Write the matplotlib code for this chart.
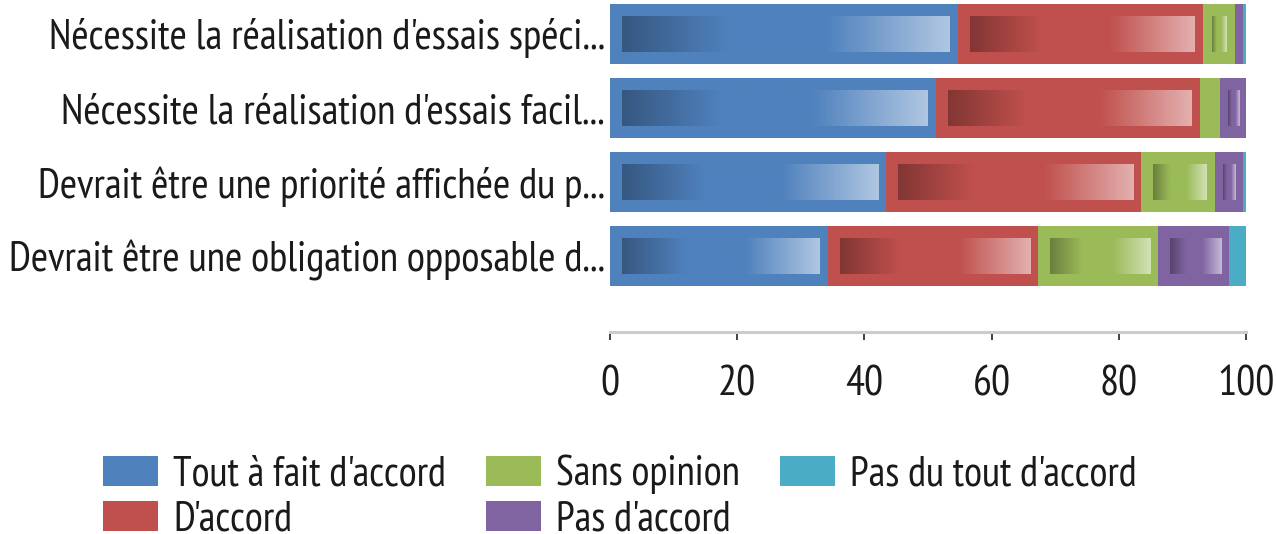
import numpy as np
import matplotlib
matplotlib.use("Agg")
import matplotlib.pyplot as plt
from matplotlib import font_manager
from matplotlib.colors import to_rgb
from matplotlib.patches import Patch

categories = [
    "Nécessite la réalisation d'essais spéci...",
    "Nécessite la réalisation d'essais facil...",
    "Devrait être une priorité affichée du p...",
    "Devrait être une obligation opposable d...",
]
series_names = ["Tout à fait d'accord", "D'accord", "Sans opinion",
                "Pas d'accord", "Pas du tout d'accord"]
tout_a_fait = [54.7, 51.2, 43.4, 34.2]
d_accord = [38.5, 41.5, 40.1, 33.1]
sans_opinion = [5.1, 3.2, 11.6, 18.9]
pas_d_accord = [1.2, 4.1, 4.4, 11.2]
pas_du_tout = [0.5, 0.5, 0.5, 2.6]
series_values = [tout_a_fait, d_accord, sans_opinion, pas_d_accord, pas_du_tout]
colors = ["#4F81BD", "#C0504D", "#9BBB59", "#8064A2", "#4BACC6"]
xticks = [0, 20, 40, 60, 80, 100]

available = {f.name for f in font_manager.fontManager.ttflist}
main_font = "DejaVu Sans"
for cand in ["PT Sans Narrow", "Open Sans Condensed", "Roboto Condensed",
             "Archivo Narrow", "Asap Condensed"]:
    if cand in available:
        main_font = cand
        break
FONT = [main_font, "DejaVu Sans"]
plt.rcParams["font.family"] = FONT
TXT = "#1a1a1a"

W, H, DPI = 1276, 534, 100
fig = plt.figure(figsize=(W / DPI, H / DPI), dpi=DPI)
renderer = fig.canvas.get_renderer()


def fit_size(text, target_px, base=20.0):
    t = fig.text(0, 0, text, fontsize=base)
    w = t.get_window_extent(renderer).width
    t.remove()
    return base * target_px / w


fs_label = fit_size(categories[0], 555)
fs_tick = fit_size("20", 38)
fs_leg = fit_size(series_names[4], 287)
fs_leg_px = fs_leg * DPI / 72.0

ax_l, ax_r = 610 / W, 1246 / W
ax_b, ax_t = (H - 332) / H, 1.0
ax = fig.add_axes([ax_l, ax_b, ax_r - ax_l, ax_t - ax_b])

y = np.arange(len(categories))
bar_h = 0.81
px_per_unit = (1246 - 610) / 100.0
ylim = (3 + 76 / 74, -34 / 74)
px_per_y = 74.0


def gradient_img(base):
    base = np.array(to_rgb(base))
    dark = base * 0.68
    light = base + (1 - base) * 0.55
    t = np.linspace(0, 1, 256)
    img = np.zeros((1, 256, 3))
    for i, ti in enumerate(t):
        if ti < 0.32:
            f = ti / 0.32
            c = dark * (1 - f) + base * f
        elif ti < 0.62:
            c = base
        else:
            f = (ti - 0.62) / 0.38
            c = base * (1 - f) + light * f
        img[0, i] = c
    return img


left = np.zeros(len(categories))
for name, vals, col in zip(series_names, series_values, colors):
    vals = np.array(vals)
    ax.barh(y, vals, left=left, height=bar_h, color=col, edgecolor="none",
            label=name, zorder=2)
    img = gradient_img(col)
    for yi, l0, v in zip(y, left, vals):
        wpx = v * px_per_unit
        if wpx < 24:
            continue
        il = min(12, 0.3 * wpx) / px_per_unit
        ir = min(8, 0.25 * wpx) / px_per_unit
        x0, x1 = l0 + il, l0 + v - ir
        inset_y = 12 / px_per_y
        ax.imshow(img, extent=(x0, x1, yi + bar_h / 2 - inset_y, yi - bar_h / 2 + inset_y),
                  aspect="auto", interpolation="bilinear", zorder=3)
    left = left + vals

ax.set_xlim(0, 100)
ax.set_ylim(*ylim)
ax.set_yticks(y)
ax.set_yticklabels(categories, fontsize=fs_label, color=TXT)
ax.tick_params(axis="y", length=0, pad=3.6)
ax.set_xticks(xticks)
ax.set_xticklabels([str(v) for v in xticks], fontsize=fs_tick, color=TXT)
ax.tick_params(axis="x", direction="out", length=6, width=1.2, color="#222222", pad=18)
for s in ["top", "right", "left"]:
    ax.spines[s].set_visible(False)
ax.spines["bottom"].set_color("#CCCCCC")
ax.spines["bottom"].set_linewidth(2.2)
ax.set_facecolor("none")

handles = [Patch(facecolor=c, edgecolor="none") for c in colors]
leg_kw = dict(ncol=3, loc="upper left", frameon=False, fontsize=fs_leg,
              handlelength=55 / fs_leg_px, handleheight=32 / fs_leg_px,
              handletextpad=15 / fs_leg_px, columnspacing=40 / fs_leg_px,
              labelcolor=TXT, borderaxespad=0, borderpad=0)
leg = fig.legend(handles, series_names, bbox_to_anchor=(103 / W, 1.0),
                 labelspacing=0.0, **leg_kw)
# measure row pitch and position, then adjust to the reference layout
fig.canvas.draw()
patches = leg.get_patches()
b0 = patches[0].get_window_extent(renderer)
b1 = patches[1].get_window_extent(renderer)
pitch = (b0.y0 + b0.y1) / 2 - (b1.y0 + b1.y1) / 2
extra = (45 - pitch) / fs_leg_px
leg.remove()
leg = fig.legend(handles, series_names, bbox_to_anchor=(103 / W, 1.0),
                 labelspacing=max(0.0, extra), **leg_kw)
fig.canvas.draw()
b0 = leg.get_patches()[0].get_window_extent(renderer)
cy = H - (b0.y0 + b0.y1) / 2
lb = leg.get_window_extent(renderer)
top_px = H - lb.y1
target_cy = 471
leg.set_bbox_to_anchor((103 / W, (H - (top_px + (target_cy - cy))) / H))

fig.savefig("out.png", dpi=DPI)
